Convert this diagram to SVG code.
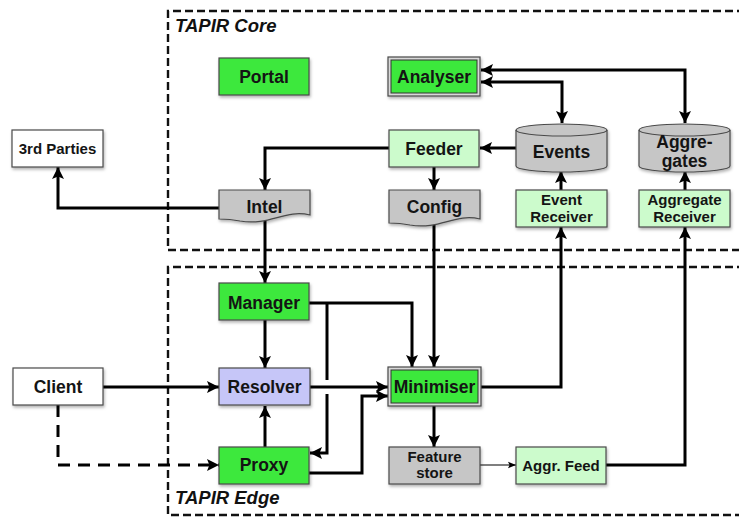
<svg xmlns="http://www.w3.org/2000/svg" width="739" height="517" viewBox="0 0 739 517">
<style>
  .n{stroke:#4a4a4a;stroke-width:1.2;filter:url(#sh)}
  .g{fill:#3ce83c}
  .lg{fill:#ccfbcc}
  .gr{fill:#c6c6c6}
  .lv{fill:#c6c6f8}
  .w{fill:#ffffff}
  .t{font-family:"Liberation Sans",Arial,sans-serif;font-weight:bold;font-size:17.5px;fill:#141414;text-anchor:middle}
  .s{font-size:15px}
  .grp{font-family:"Liberation Sans",Arial,sans-serif;font-weight:bold;font-style:italic;font-size:18.5px;fill:#111}
  .box{fill:none;stroke:#111;stroke-width:2.4;stroke-dasharray:8,4}
  .c{fill:none;stroke:#000;stroke-width:3;marker-end:url(#ah)}
  .c2{fill:none;stroke:#000;stroke-width:3;marker-end:url(#ah);marker-start:url(#ah)}
  .cn{fill:none;stroke:#000;stroke-width:3}
</style>
<defs>
  <filter id="sh" x="-10%" y="-10%" width="130%" height="140%">
    <feDropShadow dx="1" dy="2" stdDeviation="1.5" flood-color="#000" flood-opacity="0.3"/>
  </filter>
  <marker id="ah" viewBox="0 0 10 10" refX="10" refY="5" markerWidth="12" markerHeight="12" markerUnits="userSpaceOnUse" orient="auto-start-reverse">
    <path d="M0,0 L10,5 L0,10 L2,5 z" fill="#000"/>
  </marker>
  <marker id="ahs" viewBox="0 0 10 10" refX="10" refY="5" markerWidth="8" markerHeight="8" markerUnits="userSpaceOnUse" orient="auto">
    <path d="M0,1 L10,5 L0,9 L2,5 z" fill="#000"/>
  </marker>
</defs>
<rect width="739" height="517" fill="#ffffff"/>

<g id="core-boundary">
  <path class="box" d="M745,11 H168 V250 H745"/>
  <text class="grp" x="175" y="32">TAPIR Core</text>
</g>
<g id="edge-boundary">
  <path class="box" d="M745,267 H168 V515 H745"/>
  <text class="grp" x="175" y="504">TAPIR Edge</text>
</g>

<g id="connectors">
  <!-- Analyser <-> Aggregates -->
  <path class="c2" d="M481,70 H685 V123"/>
  <!-- Analyser <-> Events -->
  <path class="c2" d="M481,82 H562 V123"/>
  <!-- Events -> Feeder -->
  <path class="c" d="M516,148 H480"/>
  <!-- Feeder -> Intel -->
  <path class="c" d="M389,148 H265 V190"/>
  <!-- Feeder -> Config -->
  <path class="c" d="M434,167 V190"/>
  <!-- Intel -> 3rd Parties -->
  <path class="c" d="M219,208 H58 V167"/>
  <!-- Intel -> Manager -->
  <path class="c" d="M265,221 V283"/>
  <!-- Config -> Minimiser -->
  <path class="c" d="M434,224 V367"/>
  <!-- Manager -> Minimiser -->
  <path class="c" d="M309,303 H412 V367"/>
  <!-- Manager -> Proxy (with crossing gap) -->
  <path class="cn" d="M327,303 V380"/>
  <path class="c" d="M327,394 V453 H310"/>
  <!-- Manager -> Resolver -->
  <path class="c" d="M265,320 V368"/>
  <!-- Resolver -> Minimiser -->
  <path class="c" d="M310,387 H388"/>
  <!-- Proxy -> Resolver -->
  <path class="c" d="M265,447 V406"/>
  <!-- Proxy -> Minimiser -->
  <path class="c" d="M309,473 H362 V396 H388"/>
  <!-- Client -> Resolver -->
  <path class="c" d="M103,387 H219"/>
  <!-- Client -> Proxy (dashed) -->
  <path class="c" stroke-dasharray="12,8" d="M58,405 V465 H219"/>
  <!-- Minimiser -> Event Receiver -->
  <path class="c" d="M481,387 H561 V227"/>
  <!-- Event Receiver -> Events -->
  <path class="c" d="M561,190 V171"/>
  <!-- Aggregate Receiver -> Aggregates -->
  <path class="c" d="M685,190 V171"/>
  <!-- Aggr. Feed -> Aggregate Receiver -->
  <path class="c" d="M606,465 H685 V227"/>
  <!-- Minimiser -> Feature store -->
  <path class="c" d="M434,406 V447"/>
  <!-- Feature store -> Aggr. Feed -->
  <path fill="none" stroke="#000" stroke-width="1.2" marker-end="url(#ahs)" d="M480,465 H516"/>
</g>

<g id="portal">
  <rect class="n g" x="219" y="58" width="90" height="37"/>
  <text class="t" x="264" y="83">Portal</text>
</g>
<g id="analyser">
  <rect class="n" fill="#d8d8d8" x="388" y="57" width="92" height="39"/>
  <rect class="g" stroke="#333" stroke-width="1" x="391" y="60" width="86" height="33"/>
  <text class="t" x="434" y="83">Analyser</text>
</g>
<g id="third-parties">
  <rect class="n w" x="12" y="130" width="91" height="37"/>
  <text class="t s" x="57.5" y="154">3rd Parties</text>
</g>
<g id="feeder">
  <rect class="n lg" x="389" y="130" width="90" height="37"/>
  <text class="t" x="434" y="155">Feeder</text>
</g>
<g id="events">
  <path class="n gr" d="M516,130 V166 A45.5,6 0 0 0 607,166 V130 A45.5,6 0 0 0 516,130 Z"/>
  <path fill="none" stroke="#4a4a4a" stroke-width="1.2" d="M516,130 A45.5,6 0 0 0 607,130"/>
  <text class="t" x="561.5" y="158">Events</text>
</g>
<g id="aggregates">
  <path class="n gr" d="M639,130 V166 A45.5,6 0 0 0 730,166 V130 A45.5,6 0 0 0 639,130 Z"/>
  <path fill="none" stroke="#4a4a4a" stroke-width="1.2" d="M639,130 A45.5,6 0 0 0 730,130"/>
  <text class="t" x="684.5" y="148">Aggre-</text>
  <text class="t" x="684.5" y="167">gates</text>
</g>
<g id="intel">
  <path class="n gr" d="M219,190 H310 V215 C285,209 270,226 240,221 C230,219 224,219 219,219 Z"/>
  <text class="t" x="264.5" y="213">Intel</text>
</g>
<g id="config">
  <path class="n gr" d="M389,190 H480 V219 C455,213 440,230 410,225 C400,223 394,223 389,223 Z"/>
  <text class="t" x="434.5" y="213">Config</text>
</g>
<g id="event-receiver">
  <rect class="n lg" x="516" y="190" width="91" height="37"/>
  <text class="t s" x="561.5" y="205">Event</text>
  <text class="t s" x="561.5" y="222">Receiver</text>
</g>
<g id="aggregate-receiver">
  <rect class="n lg" x="639" y="190" width="91" height="37"/>
  <text class="t s" x="684.5" y="205">Aggregate</text>
  <text class="t s" x="684.5" y="222">Receiver</text>
</g>
<g id="manager">
  <rect class="n g" x="219" y="283" width="90" height="37"/>
  <text class="t" x="264" y="309">Manager</text>
</g>
<g id="client">
  <rect class="n w" x="13" y="368" width="90" height="37"/>
  <text class="t" x="58" y="393">Client</text>
</g>
<g id="resolver">
  <rect class="n lv" x="219" y="368" width="91" height="37"/>
  <text class="t" x="264.5" y="393">Resolver</text>
</g>
<g id="minimiser">
  <rect class="n" fill="#d8d8d8" x="388" y="367" width="93" height="39"/>
  <rect class="g" stroke="#333" stroke-width="1" x="391" y="370" width="87" height="33"/>
  <text class="t" x="434.5" y="393">Minimiser</text>
</g>
<g id="proxy">
  <rect class="n g" x="219" y="447" width="90" height="37"/>
  <text class="t" x="264" y="471">Proxy</text>
</g>
<g id="feature-store">
  <rect class="n gr" x="389" y="447" width="91" height="37"/>
  <text class="t s" x="434.5" y="462">Feature</text>
  <text class="t s" x="434.5" y="478">store</text>
</g>
<g id="aggr-feed">
  <rect class="n lg" x="516" y="447" width="90" height="37"/>
  <text class="t s" x="561" y="471">Aggr. Feed</text>
</g>
</svg>
